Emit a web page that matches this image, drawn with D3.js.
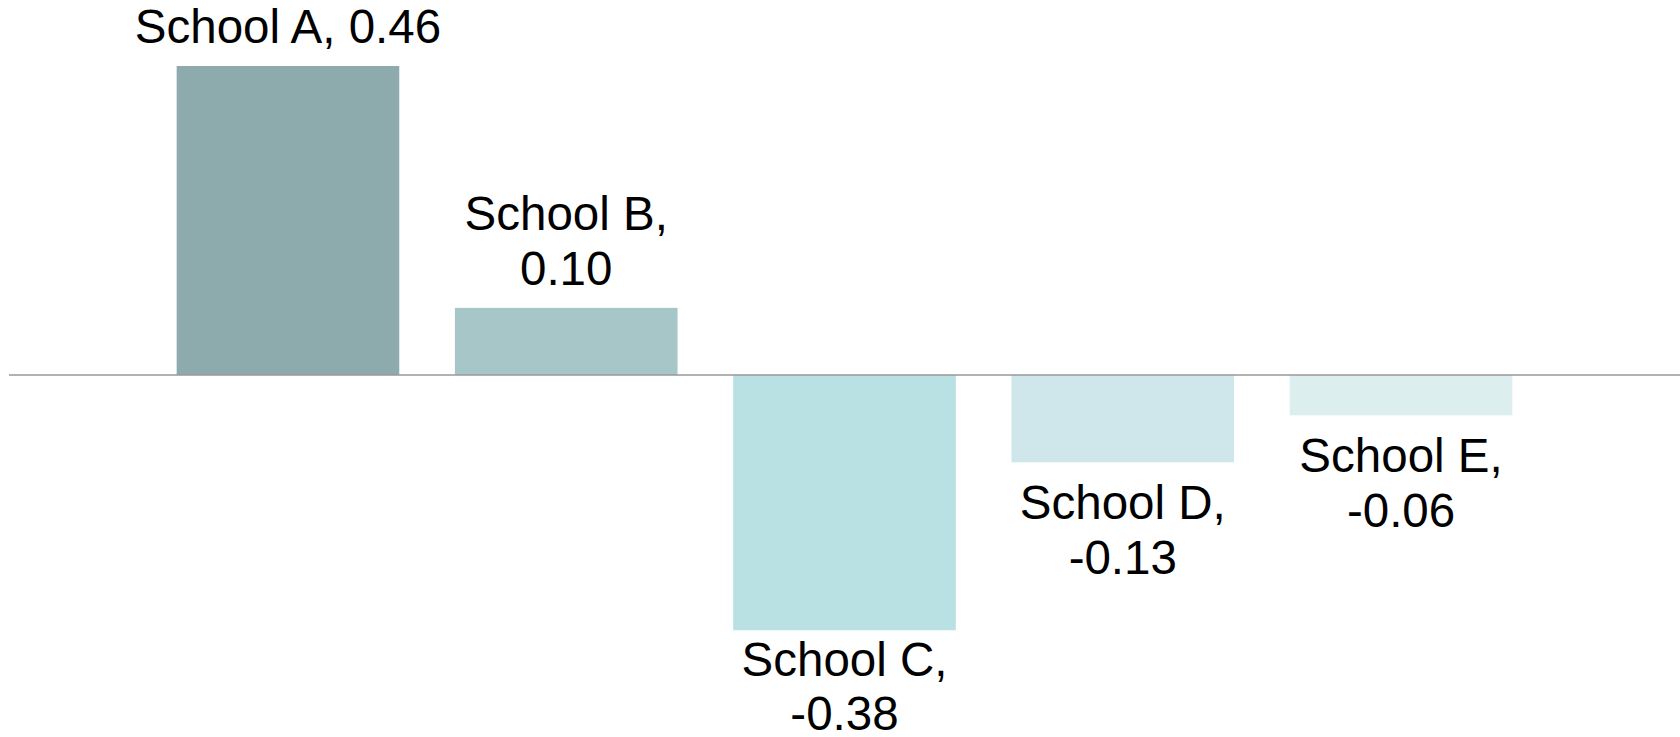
<!DOCTYPE html>
<html>
<head>
<meta charset="utf-8">
<script src="https://cdn.jsdelivr.net/npm/d3@7"></script>
<style>
  html, body { margin: 0; padding: 0; background: #ffffff; }
  svg { display: block; }
  text { font-family: "Liberation Sans", Arial, sans-serif; }
</style>
</head>
<body>
<svg id="chart" width="1680" height="737"></svg>
<script>
// School scores relative to the average
const schools = ["School A", "School B", "School C", "School D", "School E"];
const scores  = [0.46, 0.10, -0.38, -0.13, -0.06];
const barColors = ["#8daaac", "#a6c6c8", "#b9e0e2", "#cfe7ea", "#ddeeee"];

const W = 1680, H = 737;
const zeroY = 375;          // vertical position of the zero line
const unit = 671.7;         // pixels per score unit
const fontSize = 47.5;
const lineH = 54.5;

const svg = d3.select("#chart");

const x = d3.scaleBand()
  .domain(schools)
  .range([9, W])
  .paddingInner(0.2)
  .paddingOuter(0.6025);

const y = d3.scaleLinear()
  .domain([-0.55, 0.55])
  .range([zeroY + 0.55 * unit, zeroY - 0.55 * unit]);

// plain hyphen for negative numbers
const fmt = d3.formatLocale({
  decimal: ".", thousands: ",", grouping: [3], currency: ["", ""], minus: "-"
}).format(".2f");

const data = schools.map((s, i) => ({ school: s, value: scores[i], color: barColors[i] }));
const maxVal = d3.max(scores);

// bars
svg.append("g")
  .selectAll("rect")
  .data(data)
  .join("rect")
  .attr("x", d => x(d.school))
  .attr("width", x.bandwidth())
  .attr("y", d => y(Math.max(0, d.value)))
  .attr("height", d => Math.abs(y(d.value) - y(0)))
  .attr("fill", d => d.color);

// zero line
svg.append("line")
  .attr("x1", x.range()[0])
  .attr("x2", x.range()[1])
  .attr("y1", y(0))
  .attr("y2", y(0))
  .attr("stroke", "#999999")
  .attr("stroke-width", 1.6);

// data labels: the tallest bar's label fits on one line, the rest wrap after the comma
function labelLines(d) {
  return d.value === maxVal
    ? [`${d.school}, ${fmt(d.value)}`]
    : [`${d.school},`, fmt(d.value)];
}

const labels = svg.append("g")
  .selectAll("text")
  .data(data)
  .join("text")
  .attr("text-anchor", "middle")
  .attr("font-size", fontSize)
  .attr("fill", "#000000");

labels.each(function(d) {
  const lines = labelLines(d);
  const cx = x(d.school) + x.bandwidth() / 2;
  let first;
  if (d.value >= 0) {
    // last line sits just above the bar end
    first = y(d.value) - 23 - (lines.length - 1) * lineH;
  } else {
    // first line below the bar end, kept inside the chart area
    first = Math.min(y(d.value) + 57, H - 7 - (lines.length - 1) * lineH);
  }
  d3.select(this).selectAll("tspan")
    .data(lines)
    .join("tspan")
    .attr("x", cx)
    .attr("y", (t, i) => first + i * lineH)
    .text(t => t);
});
</script>
</body>
</html>
